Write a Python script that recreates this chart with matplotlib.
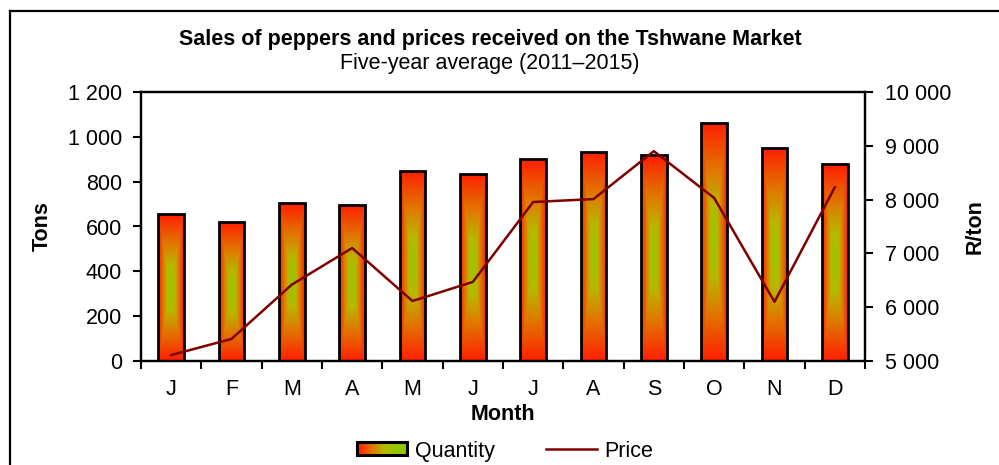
import numpy as np
import matplotlib
matplotlib.use("Agg")
import matplotlib.pyplot as plt
from matplotlib.colors import LinearSegmentedColormap
from matplotlib.patches import Rectangle
from matplotlib.lines import Line2D
from matplotlib.legend_handler import HandlerBase
from matplotlib.ticker import FuncFormatter, FixedLocator, MultipleLocator

plt.rcParams['font.family'] = ['Liberation Sans', 'DejaVu Sans']

months = ["J", "F", "M", "A", "M", "J", "J", "A", "S", "O", "N", "D"]
quantity = [655, 620, 703, 695, 848, 836, 900, 933, 918, 1060, 952, 877]
price = [5110, 5410, 6420, 7100, 6115, 6470, 7955, 8010, 8900, 8030, 6100, 8230]

title = "Sales of peppers and prices received on the Tshwane Market"
subtitle = "Five-year average (2011\u20132015)"

FS = 15.5

cmap = LinearSegmentedColormap.from_list(
    "pep", [(0.0, (0.58, 0.78, 0.0)), (0.3, (0.72, 0.72, 0.0)),
            (0.6, (0.88, 0.47, 0.0)), (1.0, (1.0, 0.12, 0.0))])

fig = plt.figure(figsize=(9.99, 4.65), dpi=100)
ax = fig.add_axes([141/999, 1-361/465, (865-141)/999, (361-92)/465])
ax2 = ax.twinx()

x = np.arange(len(months))
bw = 0.42

n = 300
for xi, q in zip(x, quantity):
    yy, xx = np.mgrid[-1:1:n*1j, -1:1:60j]
    d = np.maximum(np.abs(xx), np.abs(yy))
    im = ax.imshow(d, cmap=cmap, vmin=0, vmax=1, extent=(xi-bw/2, xi+bw/2, 0, q),
                   aspect='auto', origin='lower', interpolation='bilinear', zorder=2)
    r = Rectangle((xi-bw/2, 0), bw, q, facecolor='none', edgecolor='black',
                  linewidth=2.0, zorder=3)
    ax.add_patch(r)
    im.set_clip_path(r)
ax.set_xlim(-0.5, len(months)-0.5)
ax.set_ylim(0, 1200)
ax.set_aspect('auto')

ax2.plot(x, price, color='#800000', linewidth=1.8, zorder=4)
ax2.set_ylim(5000, 10000)
ax2.yaxis.set_major_locator(MultipleLocator(1000))
ax.yaxis.set_major_locator(MultipleLocator(200))

fmt = FuncFormatter(lambda v, p: f"{v:,.0f}".replace(",", " "))
ax.yaxis.set_major_formatter(fmt)
ax2.yaxis.set_major_formatter(fmt)

ax.xaxis.set_major_locator(FixedLocator(np.arange(-0.5, len(months), 1.0)))
ax.xaxis.set_minor_locator(FixedLocator(x))
ax.set_xticklabels([], minor=False)
ax.set_xticklabels(months, minor=True)
ax.tick_params(axis='x', which='minor', length=0, labelsize=FS, pad=13)
ax.tick_params(axis='x', which='major', length=5.5, width=1.5, direction='out')
ax.tick_params(axis='y', length=5.5, width=1.5, direction='out', labelsize=FS, pad=8)
ax2.tick_params(axis='y', length=5.5, width=1.5, direction='out', labelsize=FS, pad=9)

for a in (ax, ax2):
    for s in a.spines.values():
        s.set_linewidth(1.6)
        s.set_color('black')

ax.set_xlabel("Month", fontsize=FS, fontweight='bold', va='center')
ax.xaxis.set_label_coords((503-141)/724, (361-414)/269)
ax.set_ylabel("Tons", fontsize=FS, fontweight='bold', va='center')
ax.yaxis.set_label_coords((42-141)/724, 0.5)
ax2.set_ylabel("R/ton", fontsize=FS, fontweight='bold', va='center')
ax2.yaxis.set_label_coords((975-141)/724, 0.5)

fig.text(490/999, 1-40/465, title, ha='center', va='center', fontsize=FS, fontweight='bold')
fig.text(490/999, 1-63/465, subtitle, ha='center', va='center', fontsize=FS)

# frame around figure
fig.add_artist(Line2D([10/999, 10/999], [0, 1-11/465], color='black', linewidth=1.6,
                      transform=fig.transFigure))
fig.add_artist(Line2D([10/999, 1], [1-11/465, 1-11/465], color='black', linewidth=1.6,
                      transform=fig.transFigure))


class GradHandler(HandlerBase):
    def create_artists(self, legend, orig_handle, xdescent, ydescent, width, height,
                       fontsize, trans):
        arts = []
        k = 24
        for i in range(k):
            t = i / (k - 1)
            c = cmap(1 - min(1.0, t * 1.3))
            arts.append(Rectangle((-xdescent + width * i / k, -ydescent), width / k + 0.3,
                                  height, facecolor=c, edgecolor='none', transform=trans))
        arts.append(Rectangle((-xdescent, -ydescent), width, height, facecolor='none',
                              edgecolor='black', linewidth=2.2, transform=trans))
        return arts


class Grad:
    pass


leg_line = Line2D([], [], color='#800000', linewidth=1.8)
fig.legend([Grad(), leg_line], ["Quantity", "Price"], handler_map={Grad: GradHandler()},
           loc='center', bbox_to_anchor=(505/999, 1-451/465), ncol=2, frameon=False,
           fontsize=FS, handlelength=2.35, handleheight=0.55, columnspacing=2.4,
           handletextpad=0.35, borderpad=0.1)

fig.savefig("out.png", dpi=100)
